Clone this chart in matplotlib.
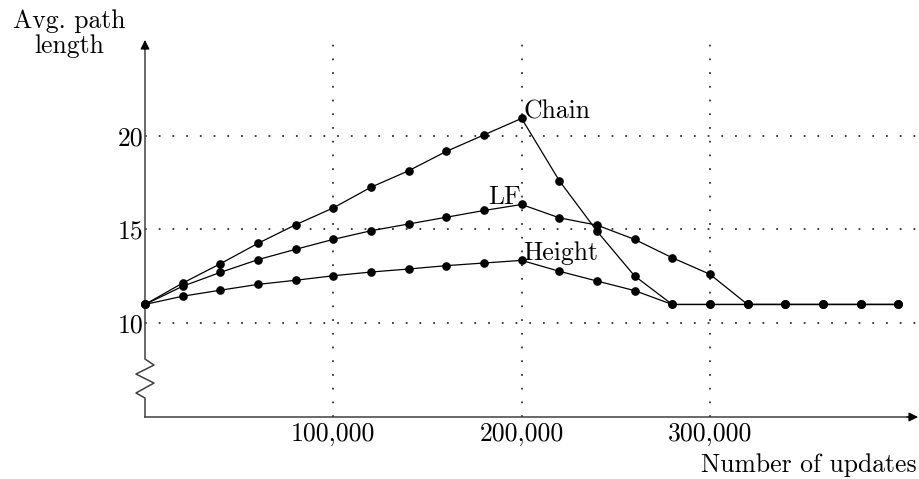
import matplotlib
matplotlib.use("Agg")
import matplotlib.pyplot as plt

# ─── Data ─────────────────────────────────────────────────────────────────────

updates = [0, 20000, 40000, 60000, 80000, 100000, 120000, 140000, 160000,
           180000, 200000, 220000, 240000, 260000, 280000, 300000, 320000,
           340000, 360000, 380000, 400000]
chain = [11.0, 12.14, 13.17, 14.26, 15.25, 16.15, 17.25, 18.13, 19.16, 20.04,
         20.92, 17.6, 14.91, 12.52, 11.0, 11.0, 11.0, 11.0, 11.0, 11.0, 11.0]
lf = [11.0, 11.97, 12.71, 13.39, 13.94, 14.47, 14.93, 15.29, 15.65, 16.01,
      16.33, 15.62, 15.23, 14.47, 13.49, 12.61, 11.0, 11.0, 11.0, 11.0, 11.0]
height = [11.0, 11.44, 11.76, 12.07, 12.29, 12.53, 12.73, 12.89, 13.07, 13.21,
          13.35, 12.77, 12.25, 11.74, 11.0, 11.0, 11.0, 11.0, 11.0, 11.0, 11.0]

x_ticks = [100000, 200000, 300000]
x_tick_labels = ["100,000", "200,000", "300,000"]
y_ticks = [10, 15, 20]
y_tick_labels = ["10", "15", "20"]

X_MAX = 410500
Y_MIN, Y_MAX = 5.0, 25.1
FS = 18.5
AXIS_COLOR = "#404040"

plt.rcParams["font.family"] = ["cmr10", "DejaVu Serif"]
plt.rcParams["axes.formatter.use_mathtext"] = True

fig = plt.figure(figsize=(9.19, 4.79), dpi=100)
ax = fig.add_axes([145 / 919, 1 - 417 / 479, 773 / 919, 377 / 479])
ax.set_xlim(0, X_MAX)
ax.set_ylim(Y_MIN, Y_MAX)
for sp in ax.spines.values():
    sp.set_visible(False)

# dotted grid (sparse dots, ~12 px apart)
grid_style = dict(color="#333333", lw=1.3, linestyle=(0, (1, 6.6)), zorder=1)
for xv in x_ticks:
    ax.axvline(xv, **grid_style)
for yv in y_ticks:
    ax.axhline(yv, **grid_style)

# ── axes with arrows and a break on the y axis ────────────────────────────────
zig_w = 4780
ax.plot([0, X_MAX - 3000], [Y_MIN, Y_MIN], color=AXIS_COLOR, lw=1.1,
        clip_on=False, zorder=2)
ax.annotate("", xy=(X_MAX, Y_MIN), xytext=(X_MAX - 6000, Y_MIN),
            arrowprops=dict(arrowstyle="-|>", color="black", lw=0.8,
                            mutation_scale=14, shrinkA=0, shrinkB=0),
            annotation_clip=False)
ax.plot([0, 0, -zig_w, zig_w, -zig_w, zig_w, 0, 0],
        [Y_MIN, 6.01, 6.28, 6.81, 7.29, 7.77, 8.09, Y_MAX - 0.2],
        color=AXIS_COLOR, lw=1.1, clip_on=False, zorder=2)
ax.annotate("", xy=(0, Y_MAX), xytext=(0, Y_MAX - 0.5),
            arrowprops=dict(arrowstyle="-|>", color="black", lw=0.8,
                            mutation_scale=14, shrinkA=0, shrinkB=0),
            annotation_clip=False)

# ── series ────────────────────────────────────────────────────────────────────
for series in (height, lf, chain):
    ax.plot(updates, series, color="black", lw=0.9, marker="o", ms=5.2,
            zorder=3, clip_on=False)

peak = updates.index(200000)
ax.annotate("Chain", (updates[peak], chain[peak]), xytext=(1.5, 0),
            textcoords="offset points", ha="left", va="baseline", fontsize=FS)
ax.annotate("LF", (updates[peak], lf[peak]), xytext=(-0.5, 0),
            textcoords="offset points", ha="right", va="baseline", fontsize=FS)
ax.annotate("Height", (updates[peak], height[peak]), xytext=(1.5, 0),
            textcoords="offset points", ha="left", va="baseline", fontsize=FS)

ax.set_xticks(x_ticks, x_tick_labels)
ax.set_yticks(y_ticks, y_tick_labels)
ax.tick_params(axis="both", length=0, labelsize=FS)
ax.tick_params(axis="x", pad=4)
ax.tick_params(axis="y", pad=1)

fig.text(69 / 919, 1 - 9 / 479, "Avg. path\nlength", ha="center", va="top",
         fontsize=FS, linespacing=1.1)
fig.text(917 / 919, 1 - 472 / 479, "Number of updates", ha="right",
         va="baseline", fontsize=FS)

fig.savefig("out.png", dpi=100)
